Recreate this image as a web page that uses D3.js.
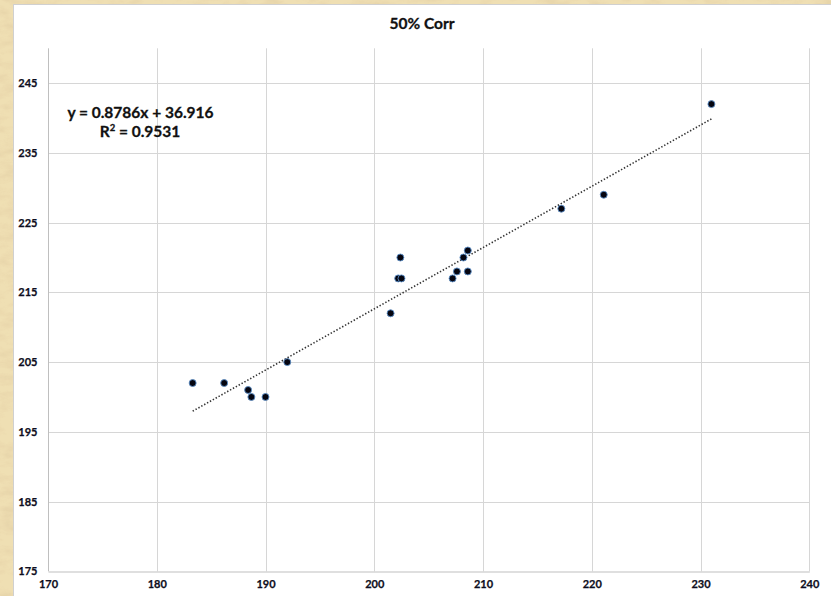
<!DOCTYPE html>
<html>
<head>
<meta charset="utf-8">
<script src="https://cdn.jsdelivr.net/npm/d3@7"></script>
<style>
  html, body { margin: 0; padding: 0; background: #e9d8ab; }
  svg { display: block; }
  text { font-family: Lato, "Open Sans", "Liberation Sans", sans-serif; font-weight: bold; }
</style>
</head>
<body>
<svg id="chart" width="831" height="596"></svg>
<script>
// Measured pairs (x, y)
const xValues = [183.3, 186.2, 188.4, 188.7, 190.0, 192.0, 201.5, 202.2, 202.5, 202.4,
                 207.2, 207.6, 208.6, 208.2, 208.6, 217.2, 221.1, 231.0];
const yValues = [202, 202, 201, 200, 200, 205, 212, 217, 217, 220,
                 217, 218, 218, 220, 221, 227, 229, 242];

// Linear trendline stated on the chart
const slope = 0.8786;
const intercept = 36.916;
const rSquared = 0.9531;

const title = "50% Corr";
const xTicks = [170, 180, 190, 200, 210, 220, 230, 240];
const yTicks = [175, 185, 195, 205, 215, 225, 235, 245];
const xDomain = [170, 240];
const yDomain = [175, 250];

const W = 831, H = 596;
const svg = d3.select("#chart");

// Parchment backdrop
const defs = svg.append("defs");
const f = defs.append("filter").attr("id", "paper").attr("x", 0).attr("y", 0).attr("width", 1).attr("height", 1);
f.append("feTurbulence").attr("type", "fractalNoise").attr("baseFrequency", "0.05 0.12").attr("numOctaves", 4).attr("seed", 7).attr("result", "n");
f.append("feColorMatrix").attr("in", "n").attr("type", "matrix")
  .attr("values", "0 0 0 0 0.80  0 0 0 0 0.66  0 0 0 0 0.40  0 0 0 2.2 -0.85");
svg.append("rect").attr("width", W).attr("height", H).attr("fill", "#efdfb3");
svg.append("rect").attr("width", W).attr("height", H).attr("filter", "url(#paper)").attr("opacity", 0.9);

// Chart area
svg.append("rect").attr("x", 13.5).attr("y", 4.5).attr("width", W - 13).attr("height", H - 4)
  .attr("fill", "#ffffff").attr("stroke", "#d0d0d0").attr("stroke-width", 1);

const plot = { left: 48, right: 809.3, top: 48.3, bottom: 571.3 };
const x = d3.scaleLinear().domain(xDomain).range([plot.left, plot.right]);
const y = d3.scaleLinear().domain(yDomain).range([plot.bottom, plot.top]);

// Gridlines
const grid = svg.append("g");
grid.selectAll("line.v").data(xTicks.slice(1)).join("line")
  .attr("x1", d => Math.round(x(d)) + 0.5).attr("x2", d => Math.round(x(d)) + 0.5)
  .attr("y1", plot.top).attr("y2", plot.bottom)
  .attr("stroke", "#d6d6d6").attr("stroke-width", 1);
grid.selectAll("line.h").data(yTicks.slice(1)).join("line")
  .attr("x1", plot.left).attr("x2", plot.right)
  .attr("y1", d => Math.round(y(d)) + 0.5).attr("y2", d => Math.round(y(d)) + 0.5)
  .attr("stroke", "#d6d6d6").attr("stroke-width", 1);

// Axes
const xAxis = svg.append("g").attr("transform", `translate(0,${Math.round(plot.bottom) + 0.5})`)
  .call(d3.axisBottom(x).tickValues(xTicks).tickSize(0).tickPadding(9).tickFormat(d3.format("d")));
xAxis.select(".domain").attr("stroke", "#bfbfbf");
const yAxis = svg.append("g").attr("transform", `translate(${Math.round(plot.left) + 0.5},0)`)
  .call(d3.axisLeft(y).tickValues(yTicks).tickSize(0).tickPadding(11).tickFormat(d3.format("d")));
yAxis.select(".domain").attr("stroke", "#bfbfbf").attr("d", `M0,${plot.bottom}V${y(yDomain[1])}`);
svg.selectAll(".tick text").attr("font-family", "Lato, sans-serif").attr("font-weight", "bold")
  .attr("font-size", 11).attr("fill", "#0d0d20")
  .attr("stroke", "#0d0d20").attr("stroke-width", 0.25);

// Trendline over the data range
const xr = d3.extent(xValues);
svg.append("line")
  .attr("x1", x(xr[0])).attr("y1", y(slope * xr[0] + intercept))
  .attr("x2", x(xr[1])).attr("y2", y(slope * xr[1] + intercept))
  .attr("stroke", "#333").attr("stroke-width", 1.6).attr("stroke-dasharray", "1.4 1.9");

// Points
svg.append("g").selectAll("circle").data(xValues.map((v, i) => [v, yValues[i]])).join("circle")
  .attr("cx", d => x(d[0])).attr("cy", d => y(d[1])).attr("r", 3.5)
  .attr("fill", "#050510").attr("stroke", "#5b8fc8").attr("stroke-width", 0.9);

// Title
svg.append("text").attr("x", 422).attr("y", 29).attr("text-anchor", "middle")
  .attr("font-size", 15.5).attr("fill", "#111").attr("stroke", "#111").attr("stroke-width", 0.3).text(title);

// Equation label
const eq = svg.append("text").attr("text-anchor", "middle").attr("font-size", 15.5).attr("fill", "#111")
  .attr("stroke", "#111").attr("stroke-width", 0.3);
eq.append("tspan").attr("x", 140.5).attr("y", 118)
  .text(`y = ${slope}x + ${intercept}`);
const r2 = eq.append("tspan").attr("x", 140).attr("y", 137);
r2.append("tspan").text("R");
r2.append("tspan").attr("font-size", 9.5).attr("dy", -6).text("2");
r2.append("tspan").attr("dy", 6).text(` = ${rSquared}`);
</script>
</body>
</html>
